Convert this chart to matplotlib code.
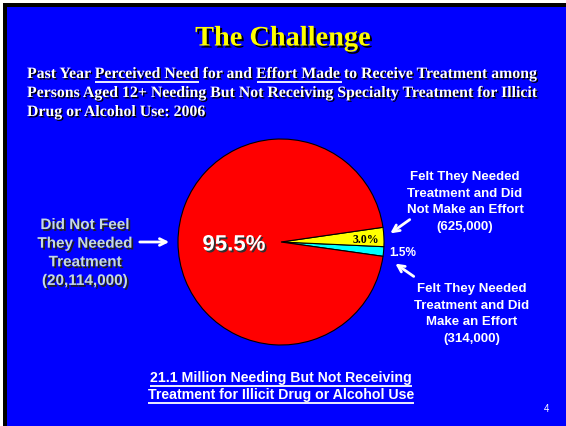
import matplotlib
matplotlib.use("Agg")
import matplotlib.pyplot as plt
import matplotlib.patheffects as pe
from matplotlib.patches import Rectangle

# data
slice_labels = ["Felt Needed, Made Effort", "Felt Needed, No Effort", "Did Not Feel Needed"]
slice_values = [1.5, 3.0, 95.5]
slice_colors = ["#00FFFF", "#FFFF00", "#FF0000"]
counts = ["(314,000)", "(625,000)", "(20,114,000)"]

W, H = 566, 426
BLUE = "#0000FF"
SERIF = "Liberation Serif"
SANS = "Liberation Sans"


def Y(y):
    # slide coords are measured from the top
    return H - y


def shadow(off=1.3, col="black"):
    return [pe.SimplePatchShadow(offset=(off, -off), shadow_rgbFace=col, alpha=1.0), pe.Normal()]


fig = plt.figure(figsize=(W / 100, H / 100), dpi=100, facecolor="white")
ax = fig.add_axes([0, 0, 1, 1])

# pie: starts just below horizontal on the right side
ax.pie(slice_values, colors=slice_colors, startangle=-8, counterclock=True,
       center=(281, Y(242)), radius=103,
       wedgeprops=dict(edgecolor="black", linewidth=0.8))
ax.set_xlim(0, W)
ax.set_ylim(0, H)
ax.set_aspect("equal")
ax.axis("off")

# slide background + black edge
ax.add_patch(Rectangle((3, 0), W, H - 3, facecolor="black", zorder=-3))
ax.add_patch(Rectangle((7, 0), W, H - 7, facecolor=BLUE, zorder=-2))

renderer = fig.canvas.get_renderer()


def width(s, **kw):
    t = ax.text(0, 0, s, **kw)
    w = t.get_window_extent(renderer).width
    t.remove()
    return w


def underline(x0, x1, y, color="white", lw=1.3, eff=True):
    ax.plot([x0, x1], [y, y], color=color, lw=lw, solid_capstyle="butt",
            path_effects=shadow(1.0) if eff else None, zorder=5)


# title
ax.text(283, Y(39), "The Challenge", family=SERIF, weight="bold", size=20.4,
        color="#FFFF00", ha="center", va="center", path_effects=shadow(1.5))

# subtitle (left aligned, underlined phrases)
sub_kw = dict(family=SERIF, weight="bold", size=11.4, color="white")
sub_lines = ["Past Year Perceived Need for and Effort Made to Receive Treatment among",
             "Persons Aged 12+ Needing But Not Receiving Specialty Treatment for Illicit",
             "Drug or Alcohol Use: 2006"]
sub_y = [74, 93, 112]
x_sub = 27
for s, y in zip(sub_lines, sub_y):
    ax.text(x_sub, Y(y), s, ha="left", va="center", path_effects=shadow(1.0), **sub_kw)
for phrase in ["Perceived Need", "Effort Made"]:
    line = sub_lines[0]
    i = line.index(phrase)
    start = width(line[:i] + phrase[0], **sub_kw) - width(phrase[0], **sub_kw)
    end = width(line[:i + len(phrase)], **sub_kw)
    underline(x_sub + start, x_sub + end, Y(82))

# pie labels
lab_kw = dict(family=SANS, weight="bold", ha="center", va="center")
ax.text(85, Y(253), "Did Not Feel\nThey Needed\nTreatment\n" + counts[2], size=11,
        color="#C6D9E3", linespacing=1.42, path_effects=shadow(1.3, "#202020"), **lab_kw)
ax.text(465, Y(202), "Felt They Needed\nTreatment and Did\nNot Make an Effort\n" + counts[1],
        size=9.5, color="white", linespacing=1.5, **lab_kw)
ax.text(472, Y(314), "Felt They Needed\nTreatment and Did\nMake an Effort\n" + counts[0],
        size=9.5, color="white", linespacing=1.5, **lab_kw)

ax.text(234, Y(245), "95.5%", family=SANS, weight="bold", size=16, color="white",
        ha="center", va="center", path_effects=shadow(1.3, "#303030"))
ax.text(366, Y(240), "3.0%", family=SERIF, weight="bold", size=8.5, color="black",
        ha="center", va="center")
ax.text(403, Y(253), "1.5%", family=SANS, weight="bold", size=8.5, color="white",
        ha="center", va="center")

# arrows
arr = dict(arrowstyle="->", color="white", lw=2, mutation_scale=12)
ax.annotate("", xy=(172, Y(242)), xytext=(137, Y(242)), arrowprops=arr)
ax.annotate("", xy=(388, Y(235)), xytext=(412, Y(218)), arrowprops=arr)
ax.annotate("", xy=(393, Y(262)), xytext=(416, Y(278)), arrowprops=arr)

# bottom caption, underlined
cap_kw = dict(family=SANS, weight="bold", size=10.2, color="white")
cap_lines = ["21.1 Million Needing But Not Receiving",
             "Treatment for Illicit Drug or Alcohol Use"]
for s, y in zip(cap_lines, [378, 395]):
    ax.text(281, Y(y), s, ha="center", va="center", **cap_kw)
    w = width(s, **cap_kw)
    underline(281 - w / 2, 281 + w / 2, Y(y + 7.5), lw=1.3, eff=False)

ax.text(547, Y(409), "4", family=SANS, size=7, color="white", ha="center", va="center")

fig.savefig("out.png", dpi=100, facecolor=fig.get_facecolor())
